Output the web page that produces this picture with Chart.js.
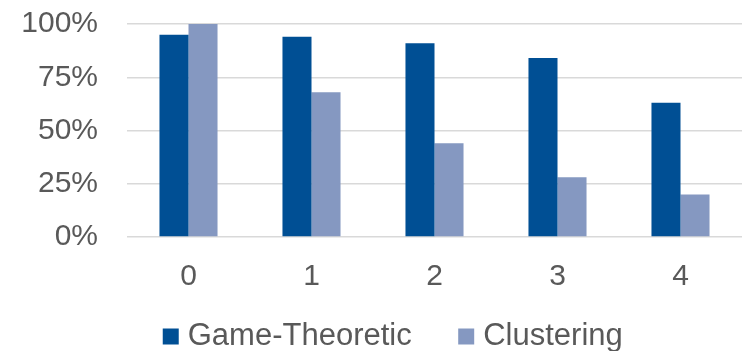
<!DOCTYPE html>
<html>
<head>
<meta charset="utf-8">
<script src="https://cdn.jsdelivr.net/npm/chart.js@4/dist/chart.umd.min.js"></script>
<style>
  html, body { margin: 0; padding: 0; background: #ffffff; }
  #wrap { width: 746px; height: 351px; position: relative; }
</style>
</head>
<body>
<div id="wrap"><canvas id="chart" width="746" height="351"></canvas></div>
<script>
// Share of correct assignments per level
const categories = ['0', '1', '2', '3', '4'];
const gameTheoretic = [95, 94, 91, 84, 63];
const clustering = [100, 68, 44, 28, 20];
const yTicks = [0, 25, 50, 75, 100];

const FONT = '"Liberation Sans", Arial, sans-serif';
const TEXT = '#595959';

// Axis boxes are kept tight for layout; widen them afterwards so their
// tick labels are not clipped to the narrow box.
const widenAxes = {
  id: 'widenAxes',
  afterLayout(chart) {
    chart.scales.y.left = 0;
    chart.scales.x.bottom = chart.height;
  }
};

new Chart(document.getElementById('chart'), {
  type: 'bar',
  data: {
    labels: categories,
    datasets: [
      { label: 'Game-Theoretic', data: gameTheoretic, backgroundColor: '#004F94' },
      { label: 'Clustering', data: clustering, backgroundColor: '#8598C1' }
    ]
  },
  plugins: [widenAxes],
  options: {
    responsive: false,
    animation: false,
    devicePixelRatio: 1,
    layout: { padding: { left: 50, right: 4, top: 0, bottom: 0 } },
    datasets: { bar: { barPercentage: 1, categoryPercentage: 0.472 } },
    plugins: {
      tooltip: { enabled: false },
      legend: {
        position: 'bottom',
        maxHeight: 83,
        labels: {
          font: { family: FONT, size: 31 },
          color: TEXT,
          usePointStyle: true,
          pointStyle: 'rect',
          boxWidth: 3,
          boxHeight: 16,
          padding: 53
        }
      }
    },
    scales: {
      x: {
        grid: { display: false, drawTicks: false },
        border: { display: false },
        ticks: { font: { family: FONT, size: 30 }, color: TEXT, padding: 22 },
        afterFit: (axis) => {
          axis.height = 31;
          axis.paddingLeft = 0;
          axis.paddingRight = 0;
        }
      },
      y: {
        min: 0,
        max: 100,
        afterBuildTicks: (axis) => { axis.ticks = yTicks.map(v => ({ value: v })); },
        grid: { color: '#D9D9D9', lineWidth: 1.5, drawTicks: false },
        border: { display: false },
        ticks: {
          font: { family: FONT, size: 30 },
          color: TEXT,
          padding: 29,
          callback: (v) => v + '%'
        },
        afterFit: (axis) => {
          axis.width = 77;
          axis.paddingTop = 24;
          axis.paddingBottom = 0;
        }
      }
    }
  }
});
</script>
</body>
</html>
